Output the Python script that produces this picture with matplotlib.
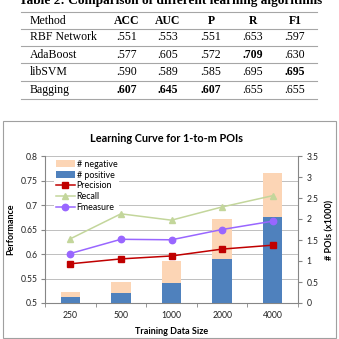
import matplotlib
matplotlib.use('Agg')
import matplotlib.pyplot as plt
from matplotlib.patches import Rectangle

# 表格数据
table_title = 'Table 2: Comparison of different learning algorithms'
table_header = ['Method', 'ACC', 'AUC', 'P', 'R', 'F1']
methods = ['RBF Network', 'AdaBoost', 'libSVM', 'Bagging']
scores = [['.551', '.553', '.551', '.653', '.597'],
          ['.577', '.605', '.572', '.709', '.630'],
          ['.590', '.589', '.585', '.695', '.695'],
          ['.607', '.645', '.607', '.655', '.655']]
bold_cells = [(1, 3), (2, 4), (3, 0), (3, 1), (3, 2)]   # (row, col) 加粗

# 学习曲线数据
sizes = ['250', '500', '1000', '2000', '4000']
n_positive = [0.14, 0.25, 0.48, 1.04, 2.05]
n_negative = [0.12, 0.25, 0.52, 0.96, 1.05]
precision = [0.580, 0.590, 0.596, 0.610, 0.618]
recall = [0.631, 0.682, 0.669, 0.696, 0.719]
fmeasure = [0.601, 0.630, 0.629, 0.650, 0.667]

W = H = 339
fig = plt.figure(figsize=(W / 100, H / 100), dpi=100)

# 覆盖整个画布的坐标系，单位为像素
bg = fig.add_axes([0, 0, 1, 1])
bg.set_xlim(0, W)
bg.set_ylim(H, 0)
bg.axis('off')

serif = 'Liberation Serif'
bg.text(171, 4, table_title, family=serif, weight='bold', fontsize=9.6,
        ha='center', va='baseline')
line_y = [12, 29, 46, 63, 81, 99]
for y in line_y:
    bg.plot([21, 317], [y, y], color='#a6a6a6', lw=0.8)
col_x = [127, 168, 211, 253, 295]
row_y = [20.5, 37.5, 54.5, 72, 90]
bg.text(30, row_y[0], table_header[0], family=serif, fontsize=8.5, ha='left', va='center')
for x, h in zip(col_x, table_header[1:]):
    bg.text(x, row_y[0], h, family=serif, fontsize=8.5, weight='bold', ha='center', va='center')
for i, (m, row) in enumerate(zip(methods, scores)):
    y = row_y[i + 1]
    bg.text(30, y, m, family=serif, fontsize=8.5, ha='left', va='center')
    for j, v in enumerate(row):
        w = 'bold' if (i, j) in bold_cells else 'normal'
        bg.text(col_x[j], y, v, family=serif, fontsize=8.5, weight=w, ha='center', va='center')

# 图表外框
bg.add_patch(Rectangle((3, 121), 333, 216.5, fill=False, ec='#a0a0a0', lw=0.8))

sans = 'Lato'
bg.text(166, 139, 'Learning Curve for 1-to-m POIs', family=sans, weight='bold',
        fontsize=7.8, ha='center', va='center')

# 主坐标系（网格和左轴）
rect = [45 / W, 36 / H, 253 / W, 147 / H]
ax = fig.add_axes(rect)
x = list(range(len(sizes)))
ax.set_xlim(-0.5, 4.5)
ax.set_ylim(0.5, 0.8)
ax.set_yticks([0.5, 0.55, 0.6, 0.65, 0.7, 0.75, 0.8])
ax.set_yticklabels(['0.5', '0.55', '0.6', '0.65', '0.7', '0.75', '0.8'])
ax.grid(axis='y', color='#bfbfbf', lw=0.7)
ax.set_xticks(x)
ax.set_xticklabels(sizes)
ax.set_xticks([i - 0.5 for i in range(6)], minor=True)
ax.tick_params(axis='x', which='major', length=0, pad=6)
ax.tick_params(axis='x', which='minor', length=3, color='#868686')
ax.tick_params(axis='y', length=3, color='#868686', pad=2)
ax.tick_params(labelsize=6.2, labelcolor='#222222')
for lab in ax.get_xticklabels() + ax.get_yticklabels():
    lab.set_family(sans)
for s in ['top', 'right']:
    ax.spines[s].set_visible(False)
for s in ['left', 'bottom']:
    ax.spines[s].set_color('#868686')
    ax.spines[s].set_linewidth(0.8)
ax.set_ylabel('Performance', family=sans, weight='bold', fontsize=6.5, labelpad=4)
ax.set_xlabel('Training Data Size', family=sans, weight='bold', fontsize=6.5, labelpad=5)

# 右轴（柱状图）
ax2 = ax.twinx()
ax2.set_ylim(0, 3.5)
ax2.set_yticks([0, 0.5, 1, 1.5, 2, 2.5, 3, 3.5])
ax2.set_yticklabels(['0', '0.5', '1', '1.5', '2', '2.5', '3', '3.5'])
ax2.tick_params(axis='y', length=3, color='#868686', labelsize=6.2, labelcolor='#222222', pad=3)
for lab in ax2.get_yticklabels():
    lab.set_family(sans)
for s in ['top', 'left', 'bottom']:
    ax2.spines[s].set_visible(False)
ax2.spines['right'].set_color('#868686')
ax2.spines['right'].set_linewidth(0.8)
b1 = ax2.bar(x, n_positive, width=0.38, color='#4f81bd', label='# positive')
b2 = ax2.bar(x, n_negative, width=0.38, bottom=n_positive, color='#fcd5b5', label='# negative')
ax2.set_ylabel('# POIs (x1000)', family=sans, weight='bold', fontsize=6.5,
               rotation=90, labelpad=5)

# 折线放在最上层
ax3 = ax.twinx()
ax3.set_ylim(0.5, 0.8)
ax3.axis('off')
l1, = ax3.plot(x, precision, color='#c00000', marker='s', ms=4.6, lw=1.1, label='Precision')
l2, = ax3.plot(x, recall, color='#c3d69b', marker='^', ms=4.2, lw=1.1, label='Recall')
l3, = ax3.plot(x, fmeasure, color='#9966ff', marker='o', ms=4.6, lw=1.1, label='Fmeasure')

leg = ax3.legend([b2, b1, l1, l2, l3], ['# negative', '# positive', 'Precision', 'Recall', 'Fmeasure'],
                 loc='upper left', bbox_to_anchor=(0.03, 1.0), frameon=True, fancybox=False,
                 edgecolor='none', framealpha=1, prop={'family': sans, 'size': 6.4},
                 handlelength=2.1, handletextpad=0.2, labelspacing=0.22, borderpad=0.2,
                 borderaxespad=0.2)

fig.savefig('out.png', dpi=100)
